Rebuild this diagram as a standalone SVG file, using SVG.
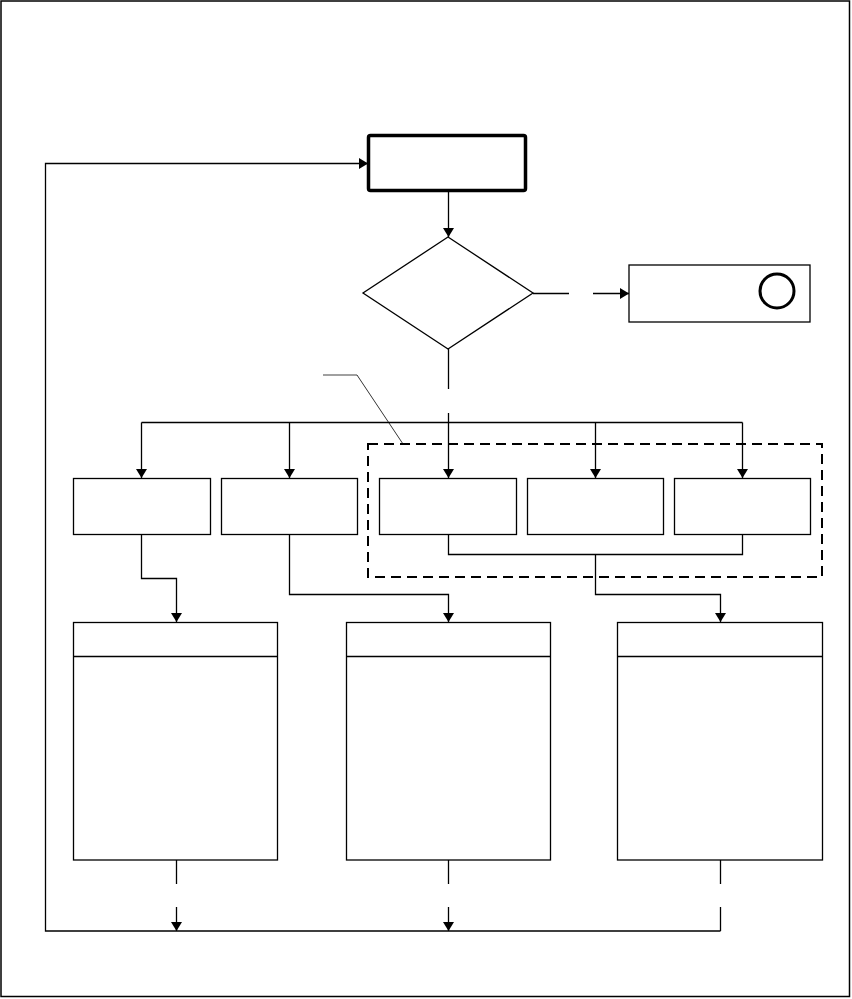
<svg xmlns="http://www.w3.org/2000/svg" width="852" height="999" viewBox="0 0 852 999">
<style>
.frame{fill:#fff;stroke:#000;stroke-width:1.5}
.box{fill:#fff;stroke:#000;stroke-width:1.3}
.thick{fill:#fff;stroke:#000;stroke-width:3.5}
.con{fill:none;stroke:#000;stroke-width:1.3}
.arr{marker-end:url(#ah)}
.group{fill:none;stroke:#000;stroke-width:2;stroke-dasharray:10 6}
</style>
<defs>
<marker id="ah" viewBox="0 0 9 11" refX="9" refY="5.5" markerWidth="9" markerHeight="11" markerUnits="userSpaceOnUse" orient="auto">
<path d="M0,0 L9,5.5 L0,11 z" fill="#000"/>
</marker>
</defs>
<rect class="frame" x="1" y="1" width="848.5" height="995.5"/>
<g id="start"><rect class="thick" x="368.5" y="135.5" width="157" height="55" rx="2"/></g>
<g id="decision"><polygon class="box" points="448,237 533,293 448,349 363,293"/></g>
<g id="end"><rect class="box" x="629" y="265" width="181" height="57"/><circle cx="777" cy="291" r="17" fill="none" stroke="#000" stroke-width="3"/></g>
<g id="group"><rect class="group" x="368" y="444" width="454" height="133"/></g>
<g id="leader"><path d="M323,375 H357" stroke="#a0a0a0" stroke-width="2" fill="none"/><path d="M357,375 L403,444" stroke="#000" stroke-width="0.8" fill="none"/></g>
<g id="b1"><rect class="box" x="73.5" y="478.5" width="137" height="56"/></g>
<g id="b2"><rect class="box" x="221.5" y="478.5" width="136" height="56"/></g>
<g id="b3"><rect class="box" x="379.5" y="478.5" width="137" height="56"/></g>
<g id="b4"><rect class="box" x="527.5" y="478.5" width="136" height="56"/></g>
<g id="b5"><rect class="box" x="674.5" y="478.5" width="136" height="56"/></g>
<g id="p1"><rect class="box" x="73.5" y="622.5" width="204" height="237.5"/><path class="con" d="M73.5,656.5 H277.5"/></g>
<g id="p2"><rect class="box" x="346.5" y="622.5" width="204" height="237.5"/><path class="con" d="M346.5,656.5 H550.5"/></g>
<g id="p3"><rect class="box" x="617.5" y="622.5" width="205" height="237.5"/><path class="con" d="M617.5,656.5 H822.5"/></g>
<g id="connectors">
<path class="con arr" d="M448.5,191 V237"/>
<path class="con" d="M533,293.5 H569"/>
<path class="con arr" d="M593,293.5 H629"/>
<path class="con" d="M448.5,349 V389"/>
<path class="con arr" d="M448.5,413 V478"/>
<path class="con" d="M141.5,422.5 H742.5"/>
<path class="con arr" d="M141.5,422.5 V478"/>
<path class="con arr" d="M289.5,422.5 V478"/>
<path class="con arr" d="M595.5,422.5 V478"/>
<path class="con arr" d="M742.5,422.5 V478"/>
<path class="con arr" d="M141.5,534.5 V578.5 H176.5 V622"/>
<path class="con arr" d="M289.5,534.5 V594.5 H448.5 V622"/>
<path class="con" d="M448.5,534.5 V554.5 H742.5 V534.5"/>
<path class="con arr" d="M595.5,554.5 V594.5 H720.5 V622"/>
<path class="con" d="M176.5,860 V884"/>
<path class="con arr" d="M176.5,907 V931"/>
<path class="con" d="M448.5,860 V884"/>
<path class="con arr" d="M448.5,907 V931"/>
<path class="con" d="M720.5,860 V884"/>
<path class="con" d="M720.5,907 V931"/>
<path class="con arr" d="M720.5,931 H45.5 V163.5 H368"/>
</g>
</svg>
